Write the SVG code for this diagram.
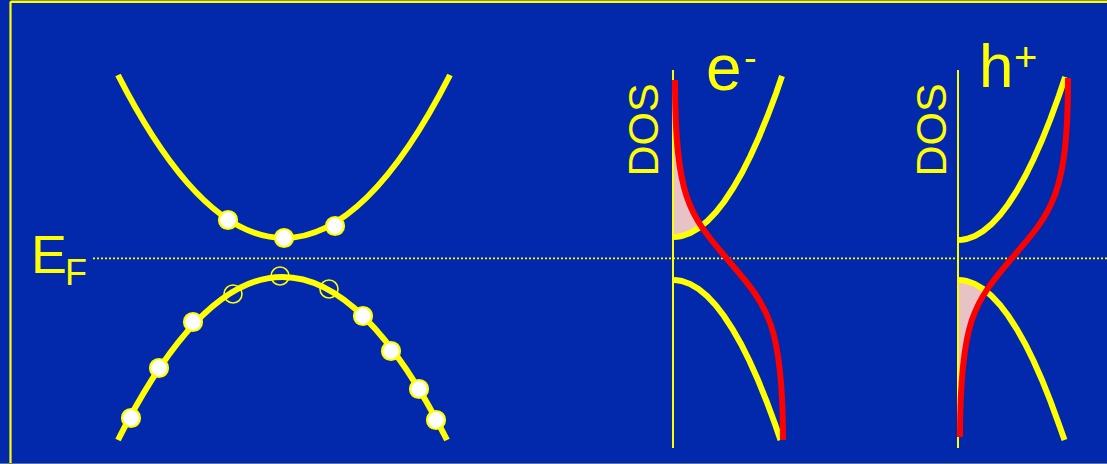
<svg xmlns="http://www.w3.org/2000/svg" width="1107" height="464" viewBox="0 0 1107 464">
<style>
.band{fill:none;stroke:#FFFF00;stroke-width:6;stroke-linecap:butt}
.fermi{fill:none;stroke:#FF0000;stroke-width:6;stroke-linecap:butt}
.axis{stroke:#FFFF00;stroke-width:2}
.el{fill:#FFFFFF;stroke:#FFFF00;stroke-width:2.2}
.hole{fill:none;stroke:#FFFF00;stroke-width:1.6}
.pink{fill:#E7C3C6;stroke:none}
.lbl{fill:#FFFF00;font-family:"Liberation Sans",Arial,sans-serif}
</style>
<rect x="0" y="0" width="1107" height="464" fill="#0229AB"/>
<line x1="10.5" y1="1.8" x2="1107" y2="1.8" stroke="#FFFF00" stroke-width="2.4"/>
<line x1="10.5" y1="1.5" x2="10.5" y2="464" stroke="#FFFF00" stroke-width="2.2"/>
<line x1="0" y1="463.5" x2="1107" y2="463.5" stroke="#5E7890" stroke-width="1"/>

<g id="connectors">
<line x1="93" y1="258.3" x2="1107" y2="258.3" stroke="#FFFF00" stroke-width="1.7" stroke-dasharray="2 2"/>
</g>

<g id="ef-label">
<text class="lbl" x="31" y="273" font-size="54">E</text>
<text class="lbl" x="65" y="285" font-size="36">F</text>
</g>

<g id="band-structure">
<path class="band" d="M118,75 Q284,401 450,75"/>
<path class="band" d="M118,440 Q282.5,114 447,440"/>
<circle class="el" cx="228" cy="220" r="9"/>
<circle class="el" cx="284" cy="238" r="9"/>
<circle class="el" cx="335" cy="226" r="9"/>
<circle class="hole" cx="233" cy="294" r="9"/>
<circle class="hole" cx="280" cy="276" r="9"/>
<circle class="hole" cx="329" cy="289" r="9"/>
<circle class="el" cx="131" cy="418" r="9"/>
<circle class="el" cx="159" cy="368" r="9"/>
<circle class="el" cx="193" cy="322" r="9"/>
<circle class="el" cx="363" cy="316" r="9"/>
<circle class="el" cx="391" cy="351" r="9"/>
<circle class="el" cx="419" cy="389" r="9"/>
<circle class="el" cx="436" cy="420" r="9"/>
</g>

<g id="dos-electrons">
<path class="pink" d="M673,113 L676.4,113 L677.8,140.5 L680.1,163.2 L683.3,182.2 L687.8,198.1 L693.3,211.8 L700.1,224 L701,227 L698.8,228 L690.2,233 L681.6,236 L673,237 Z"/>
<line class="axis" x1="673" y1="70" x2="673" y2="448"/>
<polyline class="band" points="673,237 677.3,236.75 681.6,236 690.2,233 698.8,228 707.4,221 716,212 724.6,201 733.2,188 741.8,173 750.4,156 759,137 767.6,116 776.2,93 782,76"/>
<polyline class="band" points="673,280 677.3,280.25 681.5,281 690,284 698.5,289 707,296 715.5,305 724,316 732.5,329 741,344 749.5,361 758,380 766.5,401 775,424 780.5,440"/>
<path class="fermi" d="M675,80 C675,200 690,215 728,260 C766,305 783,320 783,440"/>
<text class="lbl" font-size="43" transform="translate(658,130) rotate(-90)" text-anchor="middle">DOS</text>
<text class="lbl" x="706" y="90" font-size="64">e</text>
<text class="lbl" x="744" y="71" font-size="38">-</text>
</g>

<g id="dos-holes">
<path class="pink" d="M958,280 L966.4,281 L974.8,284 L985,291 L977.7,305.8 L972,319.4 L967.7,335.3 L964.3,354.2 L961.8,376.9 L960.4,404.3 L958,404 Z"/>
<line class="axis" x1="958" y1="70" x2="958" y2="448"/>
<polyline class="band" points="958,240 962.2,239.75 966.4,239 974.8,236 983.2,231 991.6,224 1000,215 1008.4,204 1016.8,191 1025.2,176 1033.6,159 1042,140 1050.4,119 1058.8,96 1065.2,77"/>
<polyline class="band" points="958,280 962.2,280.25 966.4,281 974.8,284 983.2,289 991.6,296 1000,305 1008.4,316 1016.8,329 1025.2,344 1033.6,361 1042,380 1050.4,401 1058.8,424 1064.5,440"/>
<path class="fermi" d="M1068,78 C1068,195 1052,212 1012,258 C975,302 960,318 960,437"/>
<text class="lbl" font-size="43" transform="translate(946,130) rotate(-90)" text-anchor="middle">DOS</text>
<text class="lbl" x="979" y="87" font-size="62">h</text>
<text class="lbl" x="1014" y="71" font-size="40">+</text>
</g>
</svg>
